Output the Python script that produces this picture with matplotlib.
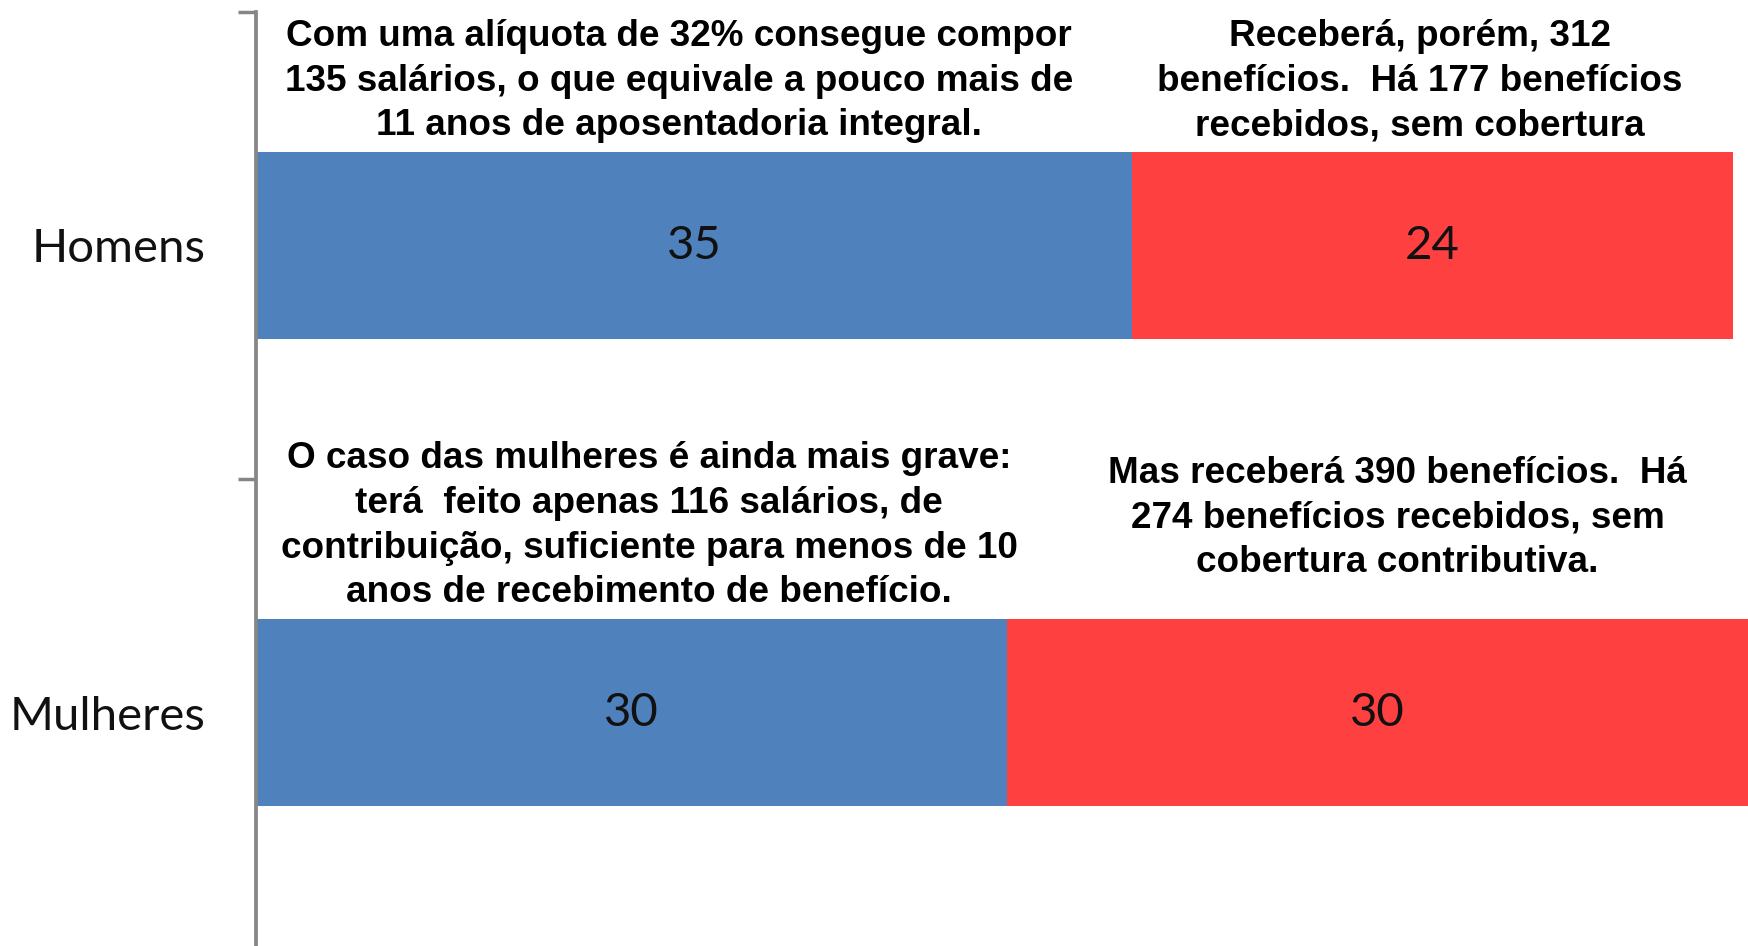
import matplotlib.pyplot as plt
import numpy as np

# dados
categorias = ["Homens", "Mulheres"]
contribuicao = [35, 30]
sem_cobertura = [24, 30]

notas_esq = [
    "Com uma alíquota de 32% consegue compor\n135 salários, o que equivale a pouco mais de\n11 anos de aposentadoria integral.",
    "O caso das mulheres é ainda mais grave:\nterá  feito apenas 116 salários, de\ncontribuição, suficiente para menos de 10\nanos de recebimento de benefício.",
]
notas_dir = [
    "Receberá, porém, 312\nbenefícios.  Há 177 benefícios\nrecebidos, sem cobertura",
    "Mas receberá 390 benefícios.  Há\n274 benefícios recebidos, sem\ncobertura contributiva.",
]

azul = "#4F81BD"
vermelho = "#FF4040"
cinza = "#868686"

fig = plt.figure(figsize=(17.48, 9.46), dpi=100)
ax = fig.add_axes([256 / 1748, 0, 1 - 256 / 1748, 1 - 12 / 946])

y = np.arange(len(categorias))
b1 = ax.barh(y, contribuicao, height=0.4, color=azul)
b2 = ax.barh(y, sem_cobertura, left=contribuicao, height=0.4, color=vermelho)

ax.bar_label(b1, label_type="center", fontsize=34, family="Lato", color="#111111")
ax.bar_label(b2, label_type="center", fontsize=34, family="Lato", color="#111111")

ax.set_xlim(0, 59.6)
ax.set_ylim(1.5, -0.5)

# notas acima das barras
pos_esq = [(16.9, -0.352), (15.7, 0.600)]
pos_dir = [(46.5, -0.352), (45.6, 0.584)]
for (xx, yy), txt in zip(pos_esq + pos_dir, notas_esq + notas_dir):
    ax.text(xx, yy, txt, ha="center", va="center", fontsize=26.6,
            family="Liberation Sans", fontweight="bold", linespacing=1.36)

for s in ["top", "right", "bottom"]:
    ax.spines[s].set_visible(False)
ax.spines["left"].set_color(cinza)
ax.spines["left"].set_linewidth(2.7)

ax.set_xticks([])
ax.set_yticks(y)
ax.set_yticklabels(categorias, fontsize=34, family="Lato", color="#111111")
ax.tick_params(axis="y", which="major", length=0, pad=36)
ax.set_yticks([-0.5, 0.5], minor=True)
ax.tick_params(axis="y", which="minor", length=13, width=2.5, color=cinza)

fig.savefig("out.png", dpi=100)
